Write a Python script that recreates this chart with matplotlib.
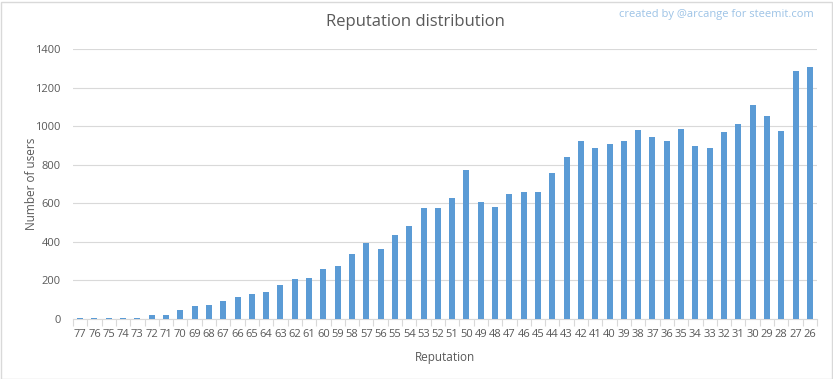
import matplotlib.pyplot as plt
from matplotlib.patches import Rectangle

# Données
reputation = [str(r) for r in range(77, 25, -1)]
users = [5, 3, 3, 3, 3, 20, 20, 45, 65, 75, 95, 115, 130, 140, 177, 209, 212,
         259, 275, 338, 396, 363, 435, 482, 575, 575, 627, 772, 606, 581, 648,
         658, 658, 757, 840, 923, 886, 907, 923, 980, 943, 923, 985, 897, 886,
         969, 1011, 1109, 1052, 975, 1286, 1306]
yticks = [0, 200, 400, 600, 800, 1000, 1200, 1400]

plt.rcParams['font.family'] = ['Open Sans', 'DejaVu Sans']

fig = plt.figure(figsize=(8.33, 3.79), dpi=100)
ax = fig.add_axes([73 / 833, 60 / 379, 744 / 833, 270 / 379])

x = range(len(reputation))
ax.bar(x, users, width=0.42, color="#5B9BD5", zorder=3)

ax.set_xlim(-0.5, len(reputation) - 0.5)
ax.set_ylim(0, 1400)
ax.set_yticks(yticks)
ax.set_yticklabels([str(v) for v in yticks], fontsize=8, color="#595959")
ax.set_xticks(list(x))
ax.set_xticklabels(reputation, fontsize=8, color="#595959")
ax.tick_params(axis="x", length=0, pad=7)
ax.tick_params(axis="y", length=0, pad=9)

# ticks between categories (Excel style)
ax.set_xticks([i - 0.5 for i in range(len(reputation) + 1)], minor=True)
ax.tick_params(axis="x", which="minor", length=5, color="#D9D9D9", width=0.8)

ax.grid(axis="y", color="#D9D9D9", linewidth=0.8, zorder=0)
for s in ["top", "right", "left"]:
    ax.spines[s].set_visible(False)
ax.spines["bottom"].set_color("#D9D9D9")
ax.spines["bottom"].set_linewidth(0.8)

ax.set_xlabel("Reputation", fontsize=8.5, color="#595959", labelpad=8)
ax.set_ylabel("Number of users", fontsize=8.5, color="#595959")
ax.yaxis.set_label_coords(-0.047, 0.5)

fig.text(415 / 833, 1 - 22 / 379, "Reputation distribution", fontsize=12,
         color="#595959", ha="center", va="center")
fig.text(814 / 833, 1 - 14 / 379, "created by @arcange for steemit.com",
         fontsize=8, color="#9DC3E6", ha="right", va="center")

fig.patches.append(Rectangle((0.5 / 833, 0.5 / 379), 831 / 833, 377 / 379,
                             transform=fig.transFigure, fill=False,
                             edgecolor="#D9D9D9", linewidth=1))

fig.savefig("out.png", dpi=100)
